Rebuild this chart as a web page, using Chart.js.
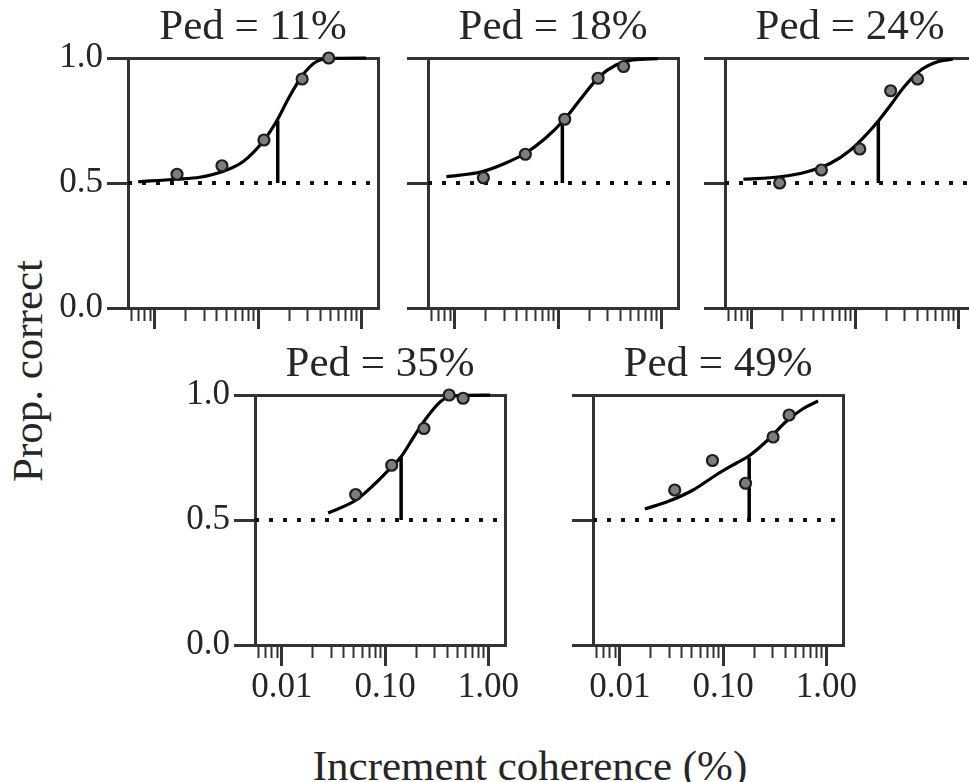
<!DOCTYPE html>
<html>
<head>
<meta charset="utf-8">
<script src="https://cdn.jsdelivr.net/npm/chart.js@4.4.1/dist/chart.umd.min.js"></script>
<style>
html, body { margin:0; padding:0; background:#fff; width:969px; height:782px; overflow:hidden; position:relative; }
canvas { position:absolute; }
.lbl { position:absolute; font-family:'Liberation Serif','Times New Roman',serif; font-size:43px; line-height:43px; color:#262626; white-space:nowrap; }
#ylab { left:27px; top:371px; transform:translate(-50%,-50%) rotate(-90deg); }
#xlab { left:530px; top:744px; transform:translateX(-50%); }
</style>
</head>
<body>
<div class="lbl" id="ylab">Prop. correct</div>
<div class="lbl" id="xlab">Increment coherence (%)</div>
<script>
// ---------- data ----------
const PANEL_TITLES = ['Ped = 11%', 'Ped = 18%', 'Ped = 24%', 'Ped = 35%', 'Ped = 49%'];
const X_MIN = 0.0055, X_MAX = 1.45;
const X_TICKS = [0.006,0.007,0.008,0.009,0.01,0.02,0.03,0.04,0.05,0.06,0.07,0.08,0.09,0.1,0.2,0.3,0.4,0.5,0.6,0.7,0.8,0.9,1];
const X_MAJOR = [0.01, 0.1, 1];
const X_MAJOR_LABELS = ['0.01', '0.10', '1.00'];
const Y_TICKS = [0, 0.5, 1];
const Y_TICK_LABELS = ['0.0', '0.5', '1.0'];
const CHANCE = 0.5;
const THRESH_LEVEL = 0.75;

// Ped = 11%
const p11_x = [0.0164, 0.0447, 0.114, 0.267, 0.483];
const p11_y = [0.535, 0.569, 0.672, 0.916, 1.0];
const p11_fit_x = [0.0069, 0.0162, 0.0272, 0.0447, 0.0713, 0.111, 0.150, 0.201, 0.271, 0.365, 0.528, 1.11];
const p11_fit_y = [0.505, 0.515, 0.523, 0.545, 0.585, 0.665, 0.745, 0.845, 0.932, 0.985, 0.999, 1.0];
const p11_thr = 0.155;

// Ped = 18%
const p18_x = [0.0189, 0.0482, 0.116, 0.244, 0.431];
const p18_y = [0.521, 0.615, 0.755, 0.919, 0.966];
const p18_fit_x = [0.00828, 0.0182, 0.0308, 0.0482, 0.0755, 0.114, 0.172, 0.250, 0.364, 0.528, 0.927];
const p18_fit_y = [0.525, 0.545, 0.579, 0.619, 0.679, 0.752, 0.845, 0.925, 0.972, 0.992, 0.997];
const p18_thr = 0.110;

// Ped = 24%
const p24_x = [0.0186, 0.0472, 0.111, 0.221, 0.403];
const p24_y = [0.500, 0.552, 0.636, 0.869, 0.916];
const p24_fit_x = [0.00828, 0.0188, 0.0343, 0.0578, 0.0904, 0.132, 0.171, 0.221, 0.299, 0.434, 0.631, 0.881];
const p24_fit_y = [0.515, 0.525, 0.545, 0.579, 0.632, 0.699, 0.752, 0.812, 0.885, 0.952, 0.985, 0.995];
const p24_thr = 0.168;

// Ped = 35%
const p35_x = [0.0519, 0.116, 0.238, 0.417, 0.570];
const p35_y = [0.602, 0.719, 0.866, 1.0, 0.987];
const p35_fit_x = [0.0281, 0.0519, 0.0783, 0.116, 0.143, 0.192, 0.260, 0.350, 0.472, 1.04];
const p35_fit_y = [0.528, 0.579, 0.642, 0.713, 0.753, 0.836, 0.916, 0.976, 0.996, 1.0];
const p35_thr = 0.143;

// Ped = 49%
const p49_x = [0.0340, 0.0789, 0.165, 0.305, 0.436];
const p49_y = [0.620, 0.738, 0.647, 0.832, 0.920];
const p49_fit_x = [0.0175, 0.0305, 0.0513, 0.0863, 0.135, 0.179, 0.263, 0.411, 0.594, 0.832];
const p49_fit_y = [0.544, 0.577, 0.620, 0.681, 0.728, 0.757, 0.815, 0.895, 0.945, 0.976];
const p49_thr = 0.179;

// ---------- layout / style ----------
const SERIF = "'Liberation Serif','Times New Roman',serif";
const AXIS = '#333333';
const TEXT = '#262626';
const AREA = 250, LPAD = 80, RPAD = 40, TITLE_LH = 50, TITLE_PB = 5;
const TPAD = TITLE_LH + TITLE_PB;

const PANELS = [
  { title: PANEL_TITLES[0], px: p11_x, py: p11_y, fx: p11_fit_x, fy: p11_fit_y, thr: p11_thr, left: 128, top: 58, yLab: true,  xLab: false },
  { title: PANEL_TITLES[1], px: p18_x, py: p18_y, fx: p18_fit_x, fy: p18_fit_y, thr: p18_thr, left: 428, top: 58, yLab: false, xLab: false },
  { title: PANEL_TITLES[2], px: p24_x, py: p24_y, fx: p24_fit_x, fy: p24_fit_y, thr: p24_thr, left: 725, top: 58, yLab: false, xLab: false },
  { title: PANEL_TITLES[3], px: p35_x, py: p35_y, fx: p35_fit_x, fy: p35_fit_y, thr: p35_thr, left: 255, top: 395, yLab: true,  xLab: true },
  { title: PANEL_TITLES[4], px: p49_x, py: p49_y, fx: p49_fit_x, fy: p49_fit_y, thr: p49_thr, left: 593, top: 395, yLab: false, xLab: true }
];

function isMajor(v) { const l = Math.log10(v); return Math.abs(l - Math.round(l)) < 1e-6; }
function xLabel(v) { const i = X_MAJOR.findIndex(m => Math.abs(m - v) / m < 1e-6); return i >= 0 ? X_MAJOR_LABELS[i] : ''; }
function alignPx(p, w) { const h = w / 2; return Math.round(p - h) + h; }
const zip = (a, b) => a.map((v, i) => ({ x: v, y: b[i] }));

const framePlugin = {
  id: 'frame',
  beforeDatasetsDraw(chart) {
    const a = chart.chartArea, ctx = chart.ctx;
    const t = alignPx(a.top, 3), r = alignPx(a.right, 3), b = alignPx(a.bottom, 3), l = alignPx(a.left, 3);
    ctx.save();
    ctx.strokeStyle = AXIS; ctx.lineWidth = 3; ctx.lineCap = 'square';
    ctx.beginPath(); ctx.moveTo(l, t); ctx.lineTo(r, t); ctx.lineTo(r, b); ctx.stroke();
    ctx.restore();
  }
};

PANELS.forEach(p => {
  const bottomH = p.xLab ? 75 : 35;
  const cv = document.createElement('canvas');
  cv.width = LPAD + AREA + RPAD;
  cv.height = TPAD + AREA + bottomH;
  cv.style.left = (p.left - LPAD) + 'px';
  cv.style.top = (p.top - TPAD) + 'px';
  document.body.appendChild(cv);

  new Chart(cv, {
    type: 'line',
    data: {
      datasets: [
        { data: zip(p.px, p.py), showLine: false, pointRadius: 5.5, pointBorderWidth: 2.2,
          pointBackgroundColor: '#7d7d7d', pointBorderColor: '#1e1e1e', clip: false },
        { data: [{ x: p.thr, y: CHANCE }, { x: p.thr, y: THRESH_LEVEL }], borderColor: '#000', borderWidth: 3.5,
          pointRadius: 0, borderCapStyle: 'butt', clip: false },
        { data: zip(p.fx, p.fy), borderColor: '#000', borderWidth: 3.2, pointRadius: 0,
          cubicInterpolationMode: 'monotone', clip: false },
        { data: [{ x: X_MIN, y: CHANCE }, { x: X_MAX, y: CHANCE }], borderColor: '#111', borderWidth: 4,
          borderDash: [4, 10], borderCapStyle: 'butt', pointRadius: 0, clip: false }
      ]
    },
    options: {
      responsive: false, animation: false, devicePixelRatio: 1, events: [],
      layout: { autoPadding: false, padding: { left: 0, right: RPAD, top: 0, bottom: 0 } },
      plugins: {
        legend: { display: false }, tooltip: { enabled: false },
        title: { display: true, fullSize: false, text: p.title, color: TEXT,
          font: { family: SERIF, size: 43, weight: 'normal', lineHeight: TITLE_LH + 'px' },
          padding: { top: 0, bottom: TITLE_PB } }
      },
      scales: {
        x: {
          type: 'logarithmic', position: 'bottom', min: X_MIN, max: X_MAX,
          afterBuildTicks: s => { s.ticks = X_TICKS.map(v => ({ value: v, major: isMajor(v) })); },
          afterFit: s => { s.height = bottomH; },
          grid: { drawOnChartArea: false, drawTicks: true, tickLength: 21, tickColor: AXIS,
            tickWidth: c => (c.tick && !isMajor(c.tick.value)) ? 2 : 3,
            tickBorderDash: c => (c.tick && !isMajor(c.tick.value)) ? [11, 60] : [] },
          border: { display: true, color: AXIS, width: 3 },
          ticks: { display: p.xLab, autoSkip: false, maxRotation: 0, minRotation: 0, padding: 1,
            color: TEXT, font: { family: SERIF, size: 35 }, callback: v => xLabel(v) }
        },
        y: {
          type: 'linear', position: 'left', min: 0, max: 1,
          afterBuildTicks: s => { s.ticks = Y_TICKS.map(v => ({ value: v })); },
          afterFit: s => { s.width = LPAD; },
          grid: { drawOnChartArea: false, drawTicks: true, tickLength: 21, tickColor: AXIS, tickWidth: 3 },
          border: { display: true, color: AXIS, width: 3 },
          ticks: { display: p.yLab, padding: 4, color: TEXT, font: { family: SERIF, size: 35 },
            callback: v => Y_TICK_LABELS[Y_TICKS.indexOf(v)] }
        }
      }
    },
    plugins: [framePlugin]
  });
});
</script>
</body>
</html>
